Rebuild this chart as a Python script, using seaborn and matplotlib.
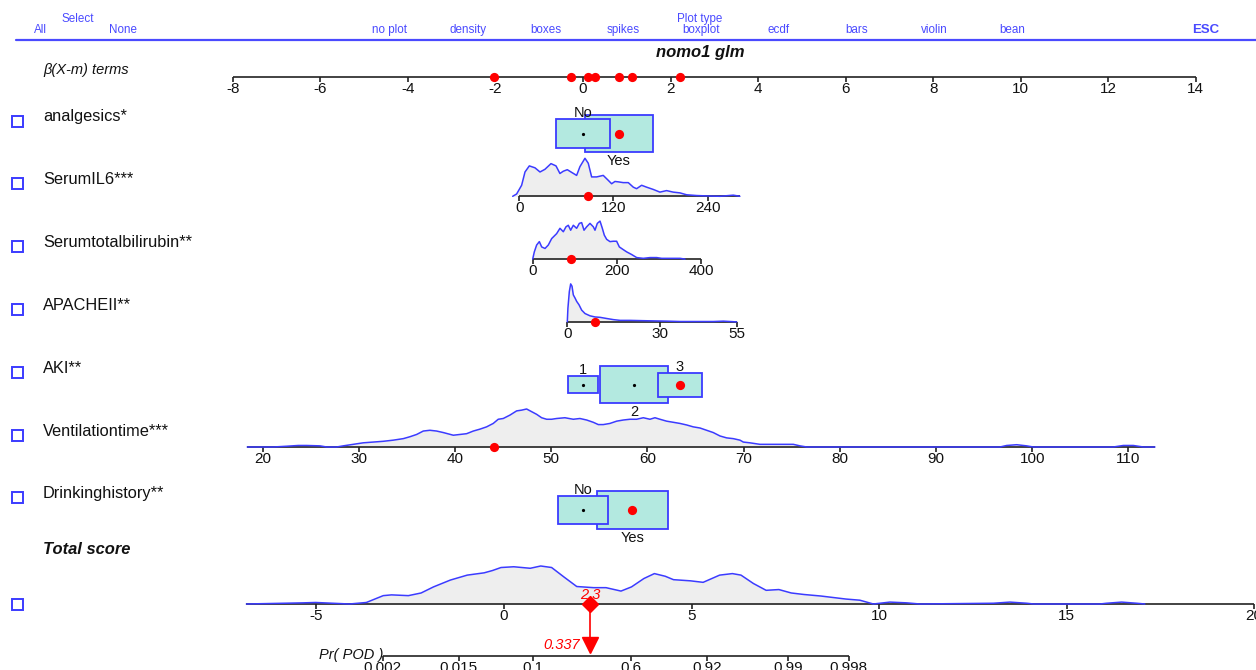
import numpy as np
import pandas as pd
import matplotlib
matplotlib.use("Agg")
import matplotlib.pyplot as plt
from matplotlib.patches import Rectangle
import seaborn as sns

# ------------------------------------------------------------------ data
title = "nomo1 glm"
var_labels = ["analgesics*", "SerumIL6***", "Serumtotalbilirubin**", "APACHEII**",
              "AKI**", "Ventilationtime***", "Drinkinghistory**"]
menu_items = ["no plot", "density", "boxes", "spikes", "boxplot", "ecdf", "bars", "violin", "bean"]
beta_ticks = [-8, -6, -4, -2, 0, 2, 4, 6, 8, 10, 12, 14]

# categorical variables: beta(X-m) per level, level frequency, current value
analgesics_levels = ["No", "Yes"]
analgesics_beta = [0.0, 0.82]
analgesics_freq = [0.38, 0.62]
analgesics_value = "Yes"

aki_levels = ["1", "2", "3"]
aki_beta = [0.0, 1.17, 2.21]
aki_freq = [0.12, 0.62, 0.26]
aki_value = "3"

drink_levels = ["No", "Yes"]
drink_beta = [0.0, 1.13]
drink_freq = [0.34, 0.66]
drink_value = "Yes"

# continuous variables: coefficient, mean, ticks, axis range, current value, density
il6_coef, il6_mean = 0.01793, 81.2
il6_ticks = [0, 120, 240]
il6_range = [0, 281]
il6_value = 87.9
il6_dens_x = [-8.4, -3.4, 3.0, 7.3, 12.8, 20, 26.4, 32.7, 40.4, 46.8, 51.8, 56.1, 61.2, 66.7,
              73.1, 77.3, 83.7, 87.9, 92.2, 98.6, 107, 113.4, 117.7, 121.9, 126.2, 132.5, 138.9,
              145.3, 149.5, 155.9, 162.3, 170.8, 179.2, 187.7, 196.2, 204.7, 213.2, 226, 238.7,
              255.7, 272.7, 281.1]
il6_dens_y = [0, .06, .29, .64, .80, .75, .64, .71, .86, .80, .60, .66, .70, .63, .55, .78, 1.0,
              .87, .51, .51, .55, .42, .33, .39, .38, .36, .36, .24, .20, .29, .24, .18, .11, .15,
              .11, .09, .04, .02, .01, 0, .03, 0]

bili_coef, bili_mean = 0.00962, 119.5
bili_ticks = [0, 200, 400]
bili_range = [0, 400]
bili_value = 90.3
bili_dens_x = [0, 3.9, 9.4, 15.8, 21.4, 29.3, 37.1, 45.1, 56.9, 64.8, 72.8, 79.1, 84.6, 90.2, 96.5,
               104.4, 110.8, 116.3, 121.9, 128.2, 136.1, 144, 148, 153.5, 159.9, 165.4, 170.1,
               175.7, 183.6, 191.5, 199.4, 205.8, 213.7, 223.2, 235.1, 247, 262.8, 278.6, 294.5,
               306.3, 350, 361.8]
bili_dens_y = [0, .19, .37, .46, .32, .28, .37, .54, .67, .81, .72, .85, .89, .76, .89, .81, .94,
               .96, .76, .85, .94, .85, .76, .94, 1.0, .81, .63, .52, .46, .47, .47, .32, .26, .19,
               .12, .04, .02, .04, .04, .02, .02, 0]

apache_coef, apache_mean = 0.0706, 5.08
apache_ticks = [0, 30, 55]
apache_range = [0, 55]
apache_value = 8.96
apache_dens_x = [0, 0.2, 0.66, 1.09, 1.52, 1.95, 2.49, 3.03, 3.79, 4.65, 5.73, 7.35, 8.96, 10.6,
                 12.7, 14.9, 17.1, 20.3, 25.7, 32.2, 36.5, 47.3, 50.5, 54.8]
apache_dens_y = [0, .36, .80, 1.0, .94, .71, .63, .54, .45, .31, .22, .16, .13, .12, .09, .06,
                 .04, .04, .03, .02, .01, .01, .02, 0]

vent_coef, vent_mean = 0.2198, 53.3
vent_ticks = [20, 30, 40, 50, 60, 70, 80, 90, 100, 110]
vent_range = [18.4, 112.75]
vent_value = 44.04
vent_dens_x = [18.40, 19.72, 21.10, 22.49, 23.70, 24.57, 25.96, 26.65, 27.69, 28.38, 29.42, 30.46,
               31.50, 32.54, 33.58, 34.62, 35.31, 36.01, 36.70, 37.39, 38.08, 38.78, 39.82, 40.51,
               41.20, 41.90, 42.59, 43.28, 43.97, 44.49, 45.01, 45.71, 46.40, 46.92, 47.44, 47.96,
               48.48, 49.00, 49.52, 50.04, 50.56, 51.42, 52.29, 52.98, 53.68, 54.37, 54.89, 55.41,
               56.10, 56.80, 57.49, 58.18, 58.87, 59.57, 60.26, 60.78, 61.30, 61.99, 62.69, 63.38,
               64.07, 64.76, 65.46, 66.15, 66.84, 67.54, 68.23, 68.92, 69.62, 69.96, 70.65, 71.69,
               73.08, 75.16, 75.85, 76.55, 78.28, 96.64, 97.34, 98.38, 99.41, 100.11, 108.42,
               109.46, 110.50, 111.54, 112.75]
vent_dens_y = [0, 0, 0, .02, .04, .04, .03, 0, 0, .03, .07, .11, .13, .15, .18, .22, .27, .33, .42,
               .44, .42, .38, .31, .33, .35, .42, .47, .53, .62, .73, .75, .84, .95, .97, 1.0, .93,
               .86, .77, .73, .73, .75, .77, .73, .75, .71, .65, .59, .59, .62, .68, .71, .73, .73,
               .77, .73, .77, .73, .68, .65, .62, .58, .53, .50, .44, .38, .29, .24, .22, .18, .13,
               .11, .07, .07, .07, .03, 0, 0, 0, .04, .06, .03, 0, 0, .04, .04, 0, 0]

# total score and probability
total_ticks = [-5, 0, 5, 10, 15, 20]
total_range = [-6.87, 20]
total_value = 2.3
prob_value = 0.337
intercept = -2.977           # logit(Pr) = total + intercept
prob_ticks = [0.002, 0.015, 0.1, 0.6, 0.92, 0.99, 0.998]
prob_labels = ["0.002", "0.015", "0.1", "0.6", "0.92", "0.99", "0.998"]
total_dens_x = [-6.87, -5.36, -5.02, -4.80, -4.12, -3.67, -3.22, -3.00, -2.55, -2.21, -1.88, -1.43,
                -0.98, -0.53, -0.31, -0.08, 0.26, 0.70, 0.98, 1.27, 1.60, 1.94, 2.39, 2.72, 3.12,
                3.40, 3.73, 4.01, 4.30, 4.52, 4.97, 5.31, 5.75, 6.09, 6.32, 6.65, 6.99, 7.33, 7.66,
                8.00, 8.45, 9.12, 9.49, 9.85, 10.29, 10.74, 11.09, 13.05, 13.49, 13.94, 14.12,
                15.89, 16.07, 16.47, 16.87, 17.09]
total_dens_y = [0, .03, .04, .03, 0, .04, .22, .24, .22, .29, .45, .63, .76, .82, .88, .96, .98,
                .94, 1.0, .96, .71, .46, .43, .43, .34, .45, .67, .80, .73, .64, .61, .57, .76, .80,
                .76, .54, .36, .38, .29, .25, .21, .13, .10, 0, .05, .03, 0, .02, .05, .02, 0, 0,
                .02, .05, .02, 0]

# ------------------------------------------------------------------ style / layout
W, H = 1256, 670
BETA_PX0, PX_PER_BETA = 583.0, 43.77
T_PX0, PX_PER_T = 504.0, 37.5
BLUE = "#3b3bff"
MENU_BLUE = "#4a4aff"
AXC = "#222222"
TXT = "#111111"
BOXFILL = "#b3e9e0"
FILL = "#eeeeee"
DENS_H = 38.0
BOX_H = 47.4
BOX_ASPECT = 1.83
TICK = 5
ROW0, ROW_STEP = 117.0, 62.8
FS_LABEL = 11.75
FS_TICK = 11
FS_MENU = 8.4

sns.set_theme(style="white")
plt.rcParams["font.family"] = ["Liberation Sans", "DejaVu Sans"]
plt.rcParams["text.color"] = TXT

fig = plt.figure(figsize=(W / 100, H / 100), dpi=100)
fig.patch.set_facecolor("white")
ui = fig.add_axes([0, 0, 1, 1])
ui.set_xlim(0, W); ui.set_ylim(H, 0); ui.axis("off")
axb = fig.add_axes([0, 0, 1, 1], facecolor="none")
axb.set_xlim(-BETA_PX0 / PX_PER_BETA, (W - BETA_PX0) / PX_PER_BETA); axb.set_ylim(H, 0); axb.axis("off")
axt = fig.add_axes([0, 0, 1, 1], facecolor="none")
axt.set_xlim(-T_PX0 / PX_PER_T, (W - T_PX0) / PX_PER_T); axt.set_ylim(H, 0); axt.axis("off")

# ------------------------------------------------------------------ menu
ui.plot([16, W], [40, 40], color=MENU_BLUE, lw=1.6)
for txt, x, y in [("All", 40, 30), ("Select", 78, 19), ("None", 123, 30)]:
    ui.text(x, y, txt, color=MENU_BLUE, fontsize=FS_MENU, ha="center", va="center")
for i, m in enumerate(menu_items):
    ui.text(390 + 77.75 * i, 30, m, color=MENU_BLUE, fontsize=FS_MENU, ha="center", va="center")
ui.text(700, 19, "Plot type", color=MENU_BLUE, fontsize=FS_MENU, ha="center", va="center")
ui.text(1206, 30, "ESC", color=MENU_BLUE, fontsize=9.5, ha="center", va="center", fontweight="bold")
ui.text(700, 53, title, fontsize=12, ha="center", va="center", fontweight="bold", style="italic")
ui.text(43, 70, "β(X-m) terms", fontsize=10.5, ha="left", va="center", style="italic")


def draw_axis(ax, ticks, labels, lo, hi, y, fs=FS_TICK):
    ax.plot([lo, hi], [y, y], color=AXC, lw=1.2, solid_capstyle="butt", zorder=2)
    ax.vlines(ticks, y, y + TICK, color=AXC, lw=1.2, zorder=2)
    for t, lab in zip(ticks, labels):
        ax.text(t, y + TICK, lab, ha="center", va="top", fontsize=fs, color=TXT)


def draw_density(ax, xs, rel, base):
    xs = np.asarray(xs, float)
    ys = base - np.asarray(rel, float) * DENS_H
    ax.fill_between(xs, ys, base, color=FILL, lw=0, zorder=1)
    df = pd.DataFrame({"x": xs, "y": ys})
    sns.lineplot(data=df, x="x", y="y", ax=ax, color=BLUE, lw=1.1, sort=False,
                 estimator=None, zorder=3)


def red_dot(ax, x, y):
    sns.scatterplot(x=[x], y=[y], ax=ax, color="red", s=44, edgecolor="red", linewidth=0, zorder=6)


def draw_boxes(ax, levels, betas, freqs, value, cy):
    hs = [BOX_H * np.sqrt(f) for f in freqs]
    order = sorted(range(len(levels)), key=lambda i: -hs[i])
    for rank, i in enumerate(order):
        h = hs[i]
        w = BOX_ASPECT * h / PX_PER_BETA
        ax.add_patch(Rectangle((betas[i] - w / 2, cy - h / 2), w, h, fc=BOXFILL, ec=BLUE,
                               lw=1.3, zorder=2 + rank))
        if levels[i] == value:
            red_dot(ax, betas[i], cy)
        else:
            ax.plot([betas[i]], [cy], marker="o", ms=1.3, color="black", zorder=9)
    for i, lev in enumerate(levels):
        h = hs[i]
        if i % 2 == 0:
            ax.text(betas[i], cy - h / 2 + 1, lev, ha="center", va="bottom", fontsize=10.5, zorder=10)
        else:
            ax.text(betas[i], cy + h / 2 + 2, lev, ha="center", va="top", fontsize=10.5, zorder=10)


# ------------------------------------------------------------------ beta axis
draw_axis(axb, beta_ticks, [str(t) for t in beta_ticks], beta_ticks[0], beta_ticks[-1], 77)

row_y = [ROW0 + ROW_STEP * i for i in range(len(var_labels))]
for lab, y in zip(var_labels, row_y):
    ui.text(43, y, lab, fontsize=FS_LABEL, ha="left", va="center")
    ui.add_patch(Rectangle((11.5, y - 1.5), 11, 11, fc="none", ec=BLUE, lw=1.4))

current_betas = []

# analgesics
draw_boxes(axb, analgesics_levels, analgesics_beta, analgesics_freq, analgesics_value, row_y[0] + 16.5)
current_betas.append(analgesics_beta[analgesics_levels.index(analgesics_value)])

# continuous rows
conts = [
    (il6_coef, il6_mean, il6_ticks, il6_range, il6_value, il6_dens_x, il6_dens_y, row_y[1]),
    (bili_coef, bili_mean, bili_ticks, bili_range, bili_value, bili_dens_x, bili_dens_y, row_y[2]),
    (apache_coef, apache_mean, apache_ticks, apache_range, apache_value, apache_dens_x, apache_dens_y, row_y[3]),
]
for coef, mean, ticks, rng, val, dx, dy, ly in conts:
    base = ly + 16.5
    f = lambda v: coef * (np.asarray(v, float) - mean)
    draw_density(axb, f(dx), dy, base)
    draw_axis(axb, f(ticks), [str(t) for t in ticks], f(rng[0]), f(rng[1]), base)
    red_dot(axb, f(val), base)
    current_betas.append(float(f(val)))

# AKI
draw_boxes(axb, aki_levels, aki_beta, aki_freq, aki_value, row_y[4] + 16.5)
current_betas.append(aki_beta[aki_levels.index(aki_value)])

# ventilation time
base = row_y[5] + 16
fv = lambda v: vent_coef * (np.asarray(v, float) - vent_mean)
draw_density(axb, fv(vent_dens_x), vent_dens_y, base)
draw_axis(axb, fv(vent_ticks), [str(t) for t in vent_ticks], fv(vent_range[0]), fv(vent_range[1]), base)
red_dot(axb, fv(vent_value), base)
current_betas.append(float(fv(vent_value)))

# drinking history
draw_boxes(axb, drink_levels, drink_beta, drink_freq, drink_value, row_y[6] + 16)
current_betas.append(drink_beta[drink_levels.index(drink_value)])

# beta(X-m) dots on top axis
sns.scatterplot(x=current_betas, y=[77] * len(current_betas), ax=axb, color="red", s=44,
                edgecolor="red", linewidth=0, zorder=6)

# ------------------------------------------------------------------ total score
ui.text(43, 550, "Total score", fontsize=11.9, ha="left", va="center", fontweight="bold", style="italic")
ui.add_patch(Rectangle((11.5, 598.5), 11, 11, fc="none", ec=BLUE, lw=1.4))
tbase = 604
draw_density(axt, total_dens_x, total_dens_y, tbase)
draw_axis(axt, total_ticks, [str(t) for t in total_ticks], total_range[0], total_range[1], tbase)

# probability axis
pbase = 656
logit = lambda p: np.log(np.asarray(p, float) / (1 - np.asarray(p, float)))
pt = logit(prob_ticks) - intercept
draw_axis(axt, pt, prob_labels, pt[0], pt[-1], pbase)
axt.text(pt[0] + 0.02, pbase - 1, "Pr( POD )", ha="right", va="center", fontsize=10.5, style="italic")

# marker, arrow
axt.plot([total_value, total_value], [tbase, 640], color="red", lw=1.2, zorder=7)
axt.plot([total_value], [645], marker="v", ms=11, color="red", zorder=8, lw=0)
axt.plot([total_value], [tbase], marker="D", ms=8, color="red", zorder=8, lw=0)
axt.text(total_value, tbase - 2, f"{total_value:.1f}", color="red", fontsize=10.5, style="italic",
         ha="center", va="bottom", zorder=9)
axt.text(total_value - 0.27, 645, f"{prob_value:.3f}", color="red", fontsize=10.5, style="italic",
         ha="right", va="center", zorder=9)

fig.savefig("out.png", dpi=100, facecolor="white")
